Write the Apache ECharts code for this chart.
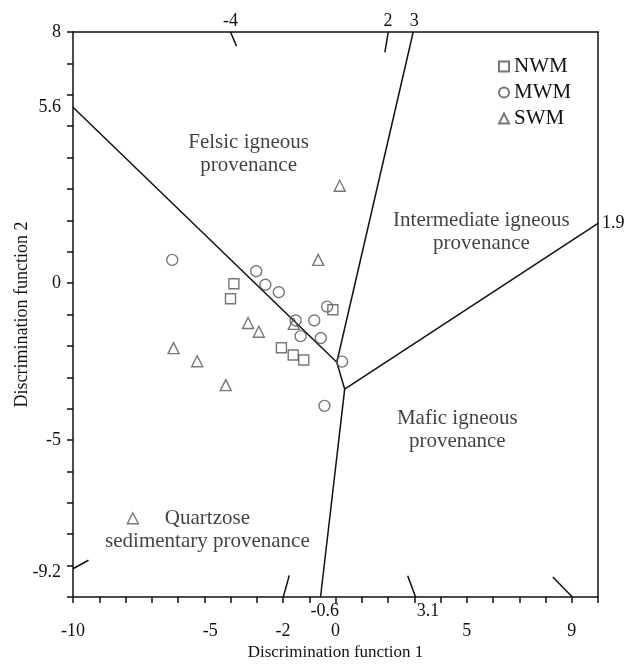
<!DOCTYPE html>
<html>
<head>
<meta charset="utf-8">
<script src="https://cdn.jsdelivr.net/npm/echarts@6/dist/echarts.min.js"></script>
<style>
  html, body { margin: 0; padding: 0; background: #fff; }
  #chart { width: 632px; height: 664px; }
</style>
</head>
<body>
<div id="chart"></div>
<script>
// samples [DF1, DF2]
const nwm = [[-3.87, -0.02], [-4.0, -0.5], [-0.1, -0.85], [-2.06, -2.06], [-1.61, -2.29], [-1.21, -2.45]];
const mwm = [[-6.22, 0.74], [-3.02, 0.38], [-2.67, -0.05], [-2.16, -0.29], [-0.32, -0.75], [-1.52, -1.19],
  [-0.81, -1.19], [-1.33, -1.69], [-0.56, -1.75], [0.25, -2.5], [-0.42, -3.91]];
const swm = [[0.16, 3.1], [-0.66, 0.74], [-3.33, -1.27], [-2.92, -1.55], [-1.59, -1.3], [-6.17, -2.07],
  [-5.27, -2.49], [-4.18, -3.25], [-7.72, -7.49]];

// field boundaries
const boundaries = [
  [[-10, 5.6], [0.05, -2.52]],
  [[0.05, -2.52], [2.96, 8]],
  [[0.05, -2.52], [0.35, -3.38]],
  [[0.35, -3.38], [10, 1.9]],
  [[0.35, -3.38], [-0.57, -10]]
];
// short edge marks
const edgeMarks = [
  [[-4.0, 8], [-3.77, 7.55]],
  [[2.01, 8], [1.88, 7.35]],
  [[-10, -9.1], [-9.41, -8.83]],
  [[-1.99, -10], [-1.76, -9.31]],
  [[3.05, -10], [2.75, -9.32]],
  [[9.02, -10], [8.28, -9.36]]
];

const fieldLabels = [
  { name: 'Felsic igneous\nprovenance', value: [-3.31, 4.1] },
  { name: 'Intermediate igneous\nprovenance', value: [5.56, 1.64] },
  { name: 'Mafic igneous\nprovenance', value: [4.64, -4.69] },
  { name: 'Quartzose\nsedimentary provenance', value: [-4.88, -7.85] }
];

const xLabelsMain = [-10, -5, -2, 0, 5, 9];
const xLabelsInner = [-0.6, 3.1];
const xLabelsTop = [-4, 2, 3];
const yLabelsLeft = [8, 5.6, 0, -5, -9.2];
const yLabelsRight = [1.9];

const font = 'Liberation Serif';
const ink = '#111';
const markColor = '#555';

const chart = echarts.init(document.getElementById('chart'));

const lineSeries = [];
boundaries.concat(edgeMarks).forEach((seg) => {
  lineSeries.push({
    type: 'line',
    data: seg,
    symbol: 'none',
    silent: true,
    lineStyle: { color: ink, width: 1.5 },
    z: 1
  });
});

const pointStyle = { color: 'rgba(0,0,0,0)', borderColor: markColor, borderWidth: 1.4 };

// the original nudges a few labels sideways
const nudge = (v) => {
  if (v > 3) return '{r|' + v + '}';
  if (v < 0 && v > -1) return '{s|' + v + '}';
  return String(v);
};

chart.setOption({
  animation: false,
  textStyle: { fontFamily: font, color: ink },
  grid: { left: 73, right: 34, top: 32, bottom: 67, containLabel: false, outerBoundsMode: 'none' },
  legend: {
    data: ['NWM', 'MWM', 'SWM'],
    orient: 'vertical',
    left: 493,
    top: 51,
    itemWidth: 10,
    itemHeight: 10,
    itemGap: 5,
    textStyle: { fontFamily: font, fontSize: 21, color: ink }
  },
  xAxis: [
    {
      type: 'value', position: 'bottom', min: -10, max: 10, interval: 1,
      axisLine: { onZero: false, lineStyle: { color: ink, width: 1.5 } },
      axisTick: { length: 6, lineStyle: { color: ink, width: 1.5 } },
      axisLabel: {
        customValues: xLabelsMain, margin: 25, fontSize: 18, color: ink, fontFamily: font,
        formatter: (v) => (v === -5 ? '{f|-5}' : String(v)),
        rich: { f: { fontSize: 18, fontFamily: font, color: ink, padding: [0, 0, 0, 12] } }
      },
      splitLine: { show: false },
      name: 'Discrimination function 1', nameLocation: 'middle', nameGap: 47, nameMoveOverlap: false,
      nameTextStyle: { fontSize: 17, fontFamily: font, color: ink }
    },
    {
      type: 'value', position: 'bottom', min: -10, max: 10,
      axisLine: { show: false }, axisTick: { show: false }, splitLine: { show: false },
      axisLabel: {
        customValues: xLabelsInner, margin: 5, fontSize: 18, color: ink, fontFamily: font,
        formatter: nudge,
        rich: {
          r: { fontSize: 18, fontFamily: font, color: ink, padding: [0, 0, 0, 22] },
          s: { fontSize: 18, fontFamily: font, color: ink, padding: [0, 0, 0, 10] }
        }
      }
    },
    {
      type: 'value', position: 'top', min: -10, max: 10,
      axisLine: { onZero: false, lineStyle: { color: ink, width: 1.5 } },
      axisTick: { show: false }, splitLine: { show: false },
      axisLabel: { customValues: xLabelsTop, margin: 2, fontSize: 18, color: ink, fontFamily: font }
    }
  ],
  yAxis: [
    {
      type: 'value', position: 'left', min: -10, max: 8, interval: 1,
      axisLine: { onZero: false, lineStyle: { color: ink, width: 1.5 } },
      axisTick: { length: 6, lineStyle: { color: ink, width: 1.5 } },
      axisLabel: { customValues: yLabelsLeft, margin: 12, fontSize: 18, color: ink, fontFamily: font },
      splitLine: { show: false },
      name: 'Discrimination function 2', nameLocation: 'middle', nameGap: 42, nameMoveOverlap: false,
      nameTextStyle: { fontSize: 18, fontFamily: font, color: ink }
    },
    {
      type: 'value', position: 'right', min: -10, max: 8,
      axisLine: { onZero: false, lineStyle: { color: ink, width: 1.5 } },
      axisTick: { show: false }, splitLine: { show: false },
      axisLabel: { customValues: yLabelsRight, margin: 4, fontSize: 18, color: ink, fontFamily: font }
    }
  ],
  series: lineSeries.concat([
    {
      name: 'NWM', type: 'scatter', data: nwm, symbol: 'rect', symbolSize: 10,
      itemStyle: pointStyle, z: 3
    },
    {
      name: 'MWM', type: 'scatter', data: mwm, symbol: 'circle', symbolSize: 11,
      itemStyle: pointStyle, z: 3
    },
    {
      name: 'SWM', type: 'scatter', data: swm, symbol: 'triangle', symbolSize: 11,
      itemStyle: pointStyle, z: 3
    },
    {
      type: 'scatter', data: fieldLabels, symbolSize: 0, silent: true,
      itemStyle: { color: ink },
      label: {
        show: true, position: 'inside', formatter: '{b}', align: 'center',
        fontFamily: font, fontSize: 21, lineHeight: 23, color: ink,
        textBorderWidth: 0, textBorderColor: 'transparent'
      },
      z: 4
    }
  ])
});
</script>
</body>
</html>
